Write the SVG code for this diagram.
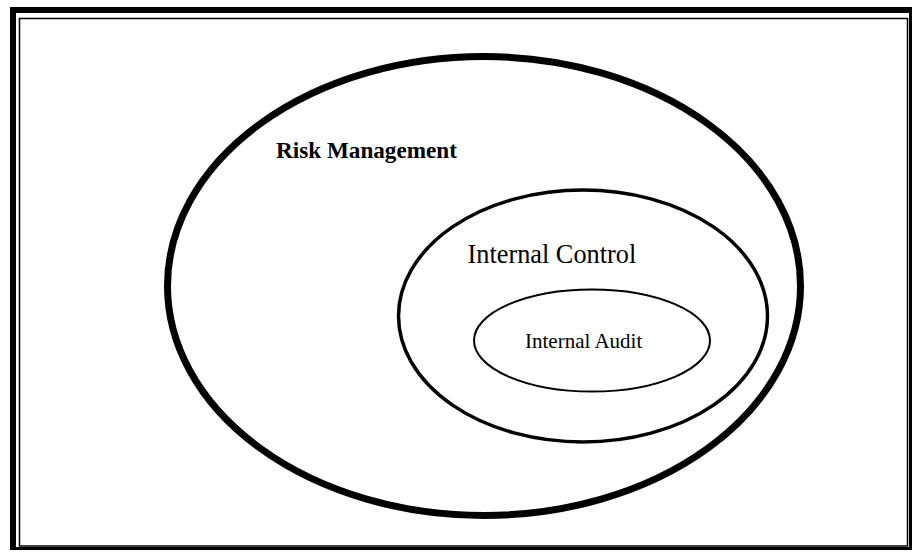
<svg xmlns="http://www.w3.org/2000/svg" width="914" height="552" viewBox="0 0 914 552">
<style>
.e{fill:none;stroke:#000}
.t{font-family:"Liberation Serif","Times New Roman",serif;fill:#000}
</style>
<rect width="914" height="552" fill="#fff"/>
<g id="frame" fill="none" stroke="#000">
<path d="M13 550 V10 H912" stroke-width="6"/>
<path d="M910.5 10 V548.5 H13" stroke-width="3"/>
<rect x="19.5" y="18.5" width="888" height="527.5" stroke-width="1.5"/>
</g>
<g id="risk-management">
<ellipse class="e" cx="484" cy="286" rx="316.5" ry="229.5" stroke-width="7"/>
<text class="t" x="276" y="158" font-size="23.2" font-weight="bold">Risk Management</text>
</g>
<g id="internal-control">
<ellipse class="e" cx="583" cy="316" rx="184.5" ry="126" stroke-width="3.5"/>
<text class="t" x="467.5" y="262.5" font-size="26.3">Internal Control</text>
</g>
<g id="internal-audit">
<ellipse class="e" cx="592" cy="340.5" rx="118" ry="51" stroke-width="2"/>
<text class="t" x="525" y="348" font-size="21">Internal Audit</text>
</g>
<g id="connectors"/>
</svg>
